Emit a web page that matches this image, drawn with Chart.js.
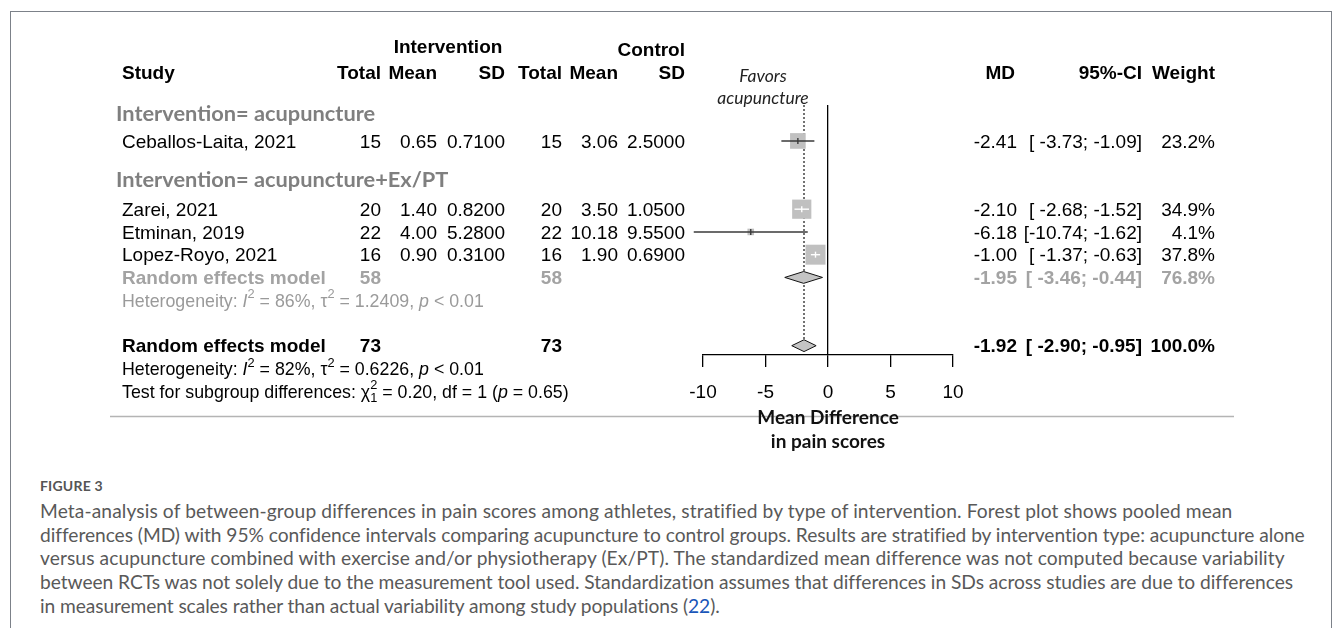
<!DOCTYPE html>
<html lang="en">
<head>
<meta charset="UTF-8">
<meta name="viewport" content="width=device-width, initial-scale=1.0">
<title>Forest plot - pain scores</title>
<script src="https://cdn.jsdelivr.net/npm/chart.js"></script>
<style>
    body {
        margin: 0;
        background: #fff;
        width: 1333px;
        height: 628px;
        overflow: hidden;
        position: relative;
    }
    .frame {
        position: absolute;
        left: 10px;
        top: 11px;
        width: 1320px;
        height: 700px;
        border: 1px solid #7c8189;
        border-bottom: none;
    }
    #wrap {
        position: absolute;
        left: 0;
        top: 0;
        width: 1333px;
        height: 470px;
    }
    .caption {
        position: absolute;
        left: 40px;
        top: 477px;
        font-family: Lato, sans-serif;
        color: #595959;
    }
    .caption .fig {
        font-size: 14px;
        font-weight: bold;
        letter-spacing: 0.2px;
        color: #555;
        height: 22px;
    }
    .caption .line {
        font-size: 19.2px;
        line-height: 23.7px;
        white-space: nowrap;
        display: table;
    }
    .caption a {
        color: #1a56b8;
        text-decoration: none;
    }
</style>
</head>
<body>
<div class="frame"></div>
<div id="wrap"><canvas id="forest"></canvas></div>
<div class="caption">
    <div class="fig">FIGURE 3</div>
    <div class="line" data-w="1192">Meta-analysis of between-group differences in pain scores among athletes, stratified by type of intervention. Forest plot shows pooled mean</div>
    <div class="line" data-w="1264">differences (MD) with 95% confidence intervals comparing acupuncture to control groups. Results are stratified by intervention type: acupuncture alone</div>
    <div class="line" data-w="1244">versus acupuncture combined with exercise and/or physiotherapy (Ex/PT). The standardized mean difference was not computed because variability</div>
    <div class="line" data-w="1252">between RCTs was not solely due to the measurement tool used. Standardization assumes that differences in SDs across studies are due to differences</div>
    <div class="line" data-w="680">in measurement scales rather than actual variability among study populations (<a href="#">22</a>).</div>
</div>

<script>
// study data
const studies = ['Ceballos-Laita, 2021', 'Zarei, 2021', 'Etminan, 2019', 'Lopez-Royo, 2021'];
const studyRows = [3, 6, 7, 8];
const nE = [15, 20, 22, 16];
const meanE = [0.65, 1.40, 4.00, 0.90];
const sdE = [0.71, 0.82, 5.28, 0.31];
const nC = [15, 20, 22, 16];
const meanC = [3.06, 3.50, 10.18, 1.90];
const sdC = [2.50, 1.05, 9.55, 0.69];
const md = [-2.41, -2.10, -6.18, -1.00];
const ciLow = [-3.73, -2.68, -10.74, -1.37];
const ciHigh = [-1.09, -1.52, -1.62, -0.63];
const weights = [23.2, 34.9, 4.1, 37.8];

// pooled estimates (subgroup acupuncture+Ex/PT, overall)
const pooledRows = [9, 12];
const pooledNE = [58, 73];
const pooledNC = [58, 73];
const pooledMd = [-1.95, -1.92];
const pooledLow = [-3.46, -2.90];
const pooledHigh = [-0.44, -0.95];
const pooledWeight = [76.8, 100.0];

// heterogeneity
const hetI2 = [86, 82];
const hetTau2 = ['1.2409', '0.6226'];
const hetRows = [10, 13];
const subChi2 = '0.20';
const subDf = 1;
const subP = '0.65';

const subgroupLabels = ['Intervention= acupuncture', 'Intervention= acupuncture+Ex/PT'];
const subgroupRows = [1.73, 4.67];

const xTicks = [-10, -5, 0, 5, 10];
const yTop = 1.42;
const yBottom = 12.41;

const ARIAL = '"Liberation Sans", Arial, sans-serif';

// stretch caption lines to the widths of the printed figure
document.querySelectorAll('.caption .line').forEach(el => {
    const target = Number(el.dataset.w);
    const natural = el.getBoundingClientRect().width;
    const n = el.textContent.length;
    el.style.letterSpacing = ((target - natural) / n).toFixed(3) + 'px';
});

function squareSide(i) {
    return 3.25 * Math.sqrt(weights[i]);
}

function ciColor(chart, i) {
    const x = chart.scales.x;
    const w = x.getPixelForValue(ciHigh[i]) - x.getPixelForValue(ciLow[i]);
    return w < squareSide(i) ? '#ffffff' : '#3a3a3a';
}

function fmtCI(lo, hi) {
    let l = lo.toFixed(2);
    if (l.length < 6) l = ' ' + l;
    return '[' + l + '; ' + hi.toFixed(2) + ']';
}

function drawRuns(ctx, x, y, runs, size) {
    runs.forEach(r => {
        const small = size * 0.72;
        if (r.stack) {
            ctx.font = small + 'px ' + ARIAL;
            ctx.fillText(r.sup, x, y - size * 0.38);
            ctx.fillText(r.sub, x, y + size * 0.32);
            x += Math.max(ctx.measureText(r.sup).width, ctx.measureText(r.sub).width);
            return;
        }
        let fs = size, dy = 0;
        if (r.sup) { fs = small; dy = -size * 0.38; }
        ctx.font = (r.it ? 'italic ' : '') + fs + 'px ' + ARIAL;
        ctx.fillText(r.t, x, y + dy);
        x += ctx.measureText(r.t).width;
    });
}

const tablePlugin = {
    id: 'table',
    beforeDraw(chart) {
        const ctx = chart.ctx;
        ctx.save();
        ctx.strokeStyle = '#b4b4b4';
        ctx.lineWidth = 1.5;
        ctx.beginPath();
        ctx.moveTo(110, 416.5);
        ctx.lineTo(1234, 416.5);
        ctx.stroke();
        ctx.restore();
    },
    afterDraw(chart) {
        const ctx = chart.ctx;
        // text sits a touch lower than the row centre
        const y = v => chart.scales.y.getPixelForValue(v) + 1.5;
        ctx.save();
        ctx.textBaseline = 'middle';

        function txt(s, x, r, align, font, color) {
            ctx.font = font;
            ctx.fillStyle = color || '#000';
            ctx.textAlign = align;
            ctx.fillText(s, x, y(r));
        }

        const bold = 'bold 19px ' + ARIAL;
        const norm = '19px ' + ARIAL;

        // headers
        txt('Intervention', 448, -1.14, 'center', bold);
        txt('Control', 685, -1.01, 'right', bold);
        txt('Study', 122, 0, 'left', bold);
        txt('Total', 381, 0, 'right', bold);
        txt('Mean', 437, 0, 'right', bold);
        txt('SD', 505, 0, 'right', bold);
        txt('Total', 562, 0, 'right', bold);
        txt('Mean', 618, 0, 'right', bold);
        txt('SD', 685, 0, 'right', bold);
        txt('MD', 1015, 0, 'right', bold);
        txt('95%-CI', 1142, 0, 'right', bold);
        txt('Weight', 1215, 0, 'right', bold);

        // favors label
        txt('Favors', 763, 0.1, 'center', 'italic 17.5px Lato, sans-serif', '#222');
        txt('acupuncture', 763, 1.07, 'center', 'italic 17.5px Lato, sans-serif', '#222');

        // subgroup labels
        subgroupLabels.forEach((s, k) => {
            txt(s, 116, subgroupRows[k], 'left', 'bold 21.8px Lato, sans-serif', '#7f7f7f');
        });

        // studies
        studies.forEach((s, i) => {
            const r = studyRows[i];
            txt(s, 122, r, 'left', norm);
            txt(String(nE[i]), 381, r, 'right', norm);
            txt(meanE[i].toFixed(2), 437, r, 'right', norm);
            txt(sdE[i].toFixed(4), 505, r, 'right', norm);
            txt(String(nC[i]), 562, r, 'right', norm);
            txt(meanC[i].toFixed(2), 618, r, 'right', norm);
            txt(sdC[i].toFixed(4), 685, r, 'right', norm);
            txt(md[i].toFixed(2), 1017, r, 'right', norm);
            txt(fmtCI(ciLow[i], ciHigh[i]), 1142, r, 'right', norm);
            txt(weights[i].toFixed(1) + '%', 1215, r, 'right', norm);
        });

        // pooled rows
        pooledRows.forEach((r, k) => {
            const col = k === 0 ? '#a3a3a3' : '#000';
            txt('Random effects model', 122, r, 'left', bold, col);
            txt(String(pooledNE[k]), 381, r, 'right', bold, col);
            txt(String(pooledNC[k]), 562, r, 'right', bold, col);
            txt(pooledMd[k].toFixed(2), 1017, r, 'right', bold, col);
            txt(fmtCI(pooledLow[k], pooledHigh[k]), 1142, r, 'right', bold, col);
            txt(pooledWeight[k].toFixed(1) + '%', 1215, r, 'right', bold, col);
        });

        // heterogeneity lines
        ctx.textAlign = 'left';
        hetRows.forEach((r, k) => {
            ctx.fillStyle = k === 0 ? '#9a9a9a' : '#000';
            drawRuns(ctx, 122, y(r), [
                { t: 'Heterogeneity: ' }, { t: 'I', it: true }, { t: '2', sup: true },
                { t: ' = ' + hetI2[k] + '%, ' }, { t: '\u03c4' }, { t: '2', sup: true },
                { t: ' = ' + hetTau2[k] + ', ' }, { t: 'p', it: true }, { t: ' < 0.01' }
            ], 17.8);
        });
        ctx.fillStyle = '#000';
        drawRuns(ctx, 122, y(14), [
            { t: 'Test for subgroup differences: ' }, { t: '\u03c7' }, { stack: true, sup: '2', sub: String(subDf) },
            { t: ' = ' + subChi2 + ', df = ' + subDf + ' (' }, { t: 'p', it: true }, { t: ' = ' + subP + ')' }
        ], 17.8);

        ctx.restore();
    }
};

function diamond(k) {
    const h = 0.26;
    const r = pooledRows[k];
    return [
        { x: pooledLow[k], y: r },
        { x: pooledMd[k], y: r - h },
        { x: pooledHigh[k], y: r },
        { x: pooledMd[k], y: r + h },
        { x: pooledLow[k], y: r }
    ];
}

const datasets = [];

// dotted line at the overall pooled estimate
datasets.push({
    data: [{ x: pooledMd[1], y: yTop }, { x: pooledMd[1], y: pooledRows[1] }],
    borderColor: '#444',
    borderWidth: 1.5,
    borderDash: [2, 2],
    pointRadius: 0,
    order: 20
});

// study squares
datasets.push({
    data: md.map((m, i) => ({ x: m, y: studyRows[i] })),
    showLine: false,
    pointStyle: 'rect',
    pointRadius: ctx => squareSide(ctx.dataIndex) / Math.SQRT2,
    backgroundColor: '#c0c0c0',
    borderColor: '#c0c0c0',
    borderWidth: 0,
    order: 10
});

// confidence intervals
studies.forEach((s, i) => {
    datasets.push({
        data: [{ x: ciLow[i], y: studyRows[i] }, { x: ciHigh[i], y: studyRows[i] }],
        borderColor: ctx => ciColor(ctx.chart, i),
        borderWidth: 1.4,
        pointRadius: 0,
        clip: false,
        order: 5
    });
});

// point estimate marks
datasets.push({
    data: md.map((m, i) => ({ x: m, y: studyRows[i] })),
    showLine: false,
    pointStyle: 'line',
    rotation: 90,
    pointRadius: 3,
    borderColor: ctx => ciColor(ctx.chart, ctx.dataIndex),
    borderWidth: 1.4,
    order: 4
});

// pooled diamonds
pooledRows.forEach((r, k) => {
    datasets.push({
        data: diamond(k),
        fill: 'shape',
        backgroundColor: '#c4c4c4',
        borderColor: '#111',
        borderWidth: 1,
        pointRadius: 0,
        tension: 0,
        order: 1
    });
});

new Chart(document.getElementById('forest'), {
    type: 'line',
    data: { datasets: datasets },
    options: {
        responsive: true,
        maintainAspectRatio: false,
        animation: false,
        events: [],
        layout: { padding: { left: 703, right: 380, top: 105, bottom: 0 } },
        plugins: { legend: { display: false }, tooltip: { enabled: false } },
        scales: {
            x: {
                type: 'linear',
                min: -10,
                max: 10,
                afterBuildTicks: s => { s.ticks = xTicks.map(v => ({ value: v })); },
                afterFit: s => { s.height = 115; },
                grid: {
                    color: c => (c.tick && c.tick.value === 0) ? '#000' : 'rgba(0,0,0,0)',
                    lineWidth: 1.3,
                    tickColor: '#000',
                    tickLength: 12,
                    drawTicks: true
                },
                border: { display: true, color: '#000', width: 1.3 },
                ticks: {
                    color: '#000',
                    padding: 14,
                    font: { family: ARIAL, size: 19 }
                },
                title: {
                    display: true,
                    text: ['Mean Difference', 'in pain scores'],
                    color: '#111',
                    font: { family: 'Lato', weight: 'bold', size: 19, lineHeight: '24px' },
                    padding: { top: 0, bottom: 16 }
                }
            },
            y: {
                type: 'linear',
                display: false,
                reverse: true,
                min: yTop,
                max: yBottom
            }
        }
    },
    plugins: [tablePlugin]
});
</script>
</body>
</html>
